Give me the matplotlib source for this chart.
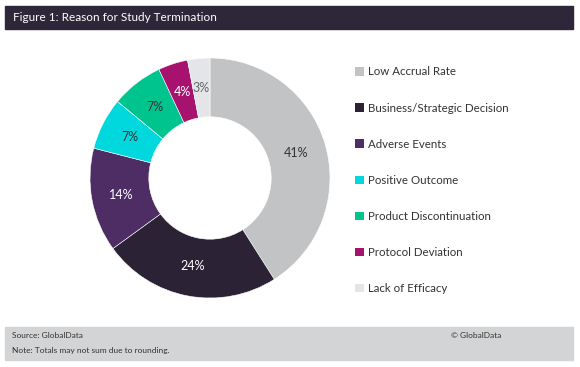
import matplotlib.pyplot as plt
from matplotlib.patches import Rectangle, Patch

plt.rcParams['font.family'] = ['Lato', 'DejaVu Sans']

labels = ["Low Accrual Rate", "Business/Strategic Decision", "Adverse Events",
          "Positive Outcome", "Product Discontinuation", "Protocol Deviation",
          "Lack of Efficacy"]
values = [41, 24, 14, 7, 7, 4, 3]
colors = ["#C1C3C5", "#2B2235", "#4E2C64", "#00D8DE", "#00C48E", "#A8126F", "#E3E5E8"]
label_colors = ["#333333", "white", "white", "#333333", "#333333", "white", "#666666"]

fig = plt.figure(figsize=(5.8, 3.67), dpi=100)
W, H = 580, 367

def box(x0, y0, x1, y1, color):
    fig.patches.append(Rectangle((x0 / W, 1 - y1 / H), (x1 - x0) / W, (y1 - y0) / H,
                                 transform=fig.transFigure, color=color, zorder=0))

# header and footer bars
box(5, 6, 573, 29, "#2E2639")
fig.text(13 / W, 1 - 17.5 / H, "Figure 1: Reason for Study Termination", color="white",
         fontsize=8.5, va="center", ha="left")
box(5, 327, 573, 360, "#D3D4D6")
fig.text(12 / W, 1 - 336 / H, "Source: GlobalData", fontsize=6, va="center", color="#333333")
fig.text(12 / W, 1 - 350 / H, "Note: Totals may not sum due to rounding.", fontsize=6,
         va="center", color="#333333")
fig.text(501 / W, 1 - 336 / H, "\u00a9 GlobalData", fontsize=6, va="center", ha="right",
         color="#333333")

# donut
cx, cy, r = 210, 178, 120
ax = fig.add_axes([(cx - r) / W, 1 - (cy + r) / H, 2 * r / W, 2 * r / H])
wedges, texts, autotexts = ax.pie(values, colors=colors, startangle=90, counterclock=False,
                                  autopct="%d%%", pctdistance=0.75,
                                  wedgeprops=dict(width=0.49, edgecolor="white", linewidth=0.4),
                                  textprops=dict(fontsize=9))
for t, c in zip(autotexts, label_colors):
    t.set_color(c)
ax.set_xlim(-1, 1)
ax.set_ylim(-1, 1)
ax.set_aspect("equal")

# legend
handles = [Patch(facecolor=c, edgecolor="none") for c in colors]
fig.legend(handles, labels, loc="upper left", bbox_to_anchor=(345 / W, 1 - 56 / H),
           frameon=False, fontsize=8.3, labelspacing=2.18, handlelength=0.75,
           handleheight=0.75, handletextpad=0.35, labelcolor="#333333")

fig.savefig("out.png", dpi=100)
